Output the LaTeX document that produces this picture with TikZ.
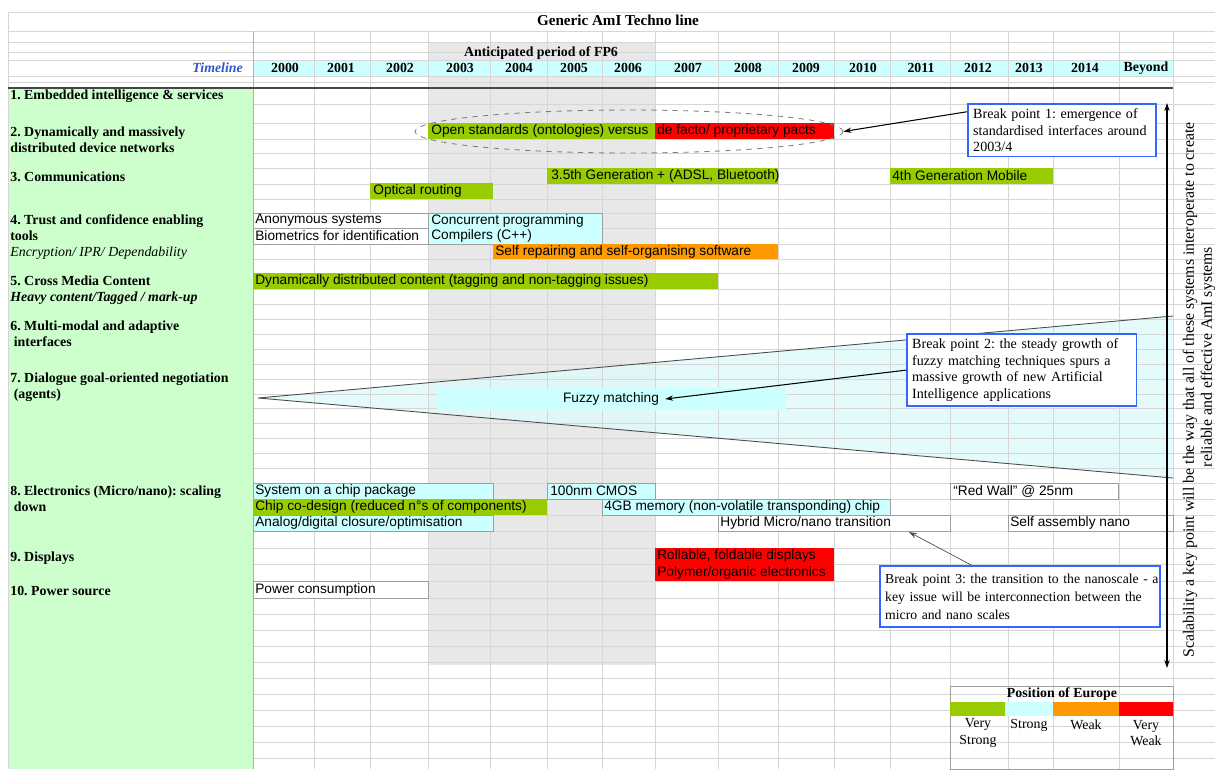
\documentclass[tikz,border=0pt]{standalone}
\usepackage{fontspec}
\setmainfont{Liberation Serif}
\setsansfont{Liberation Sans}
\usetikzlibrary{shapes.geometric,arrows.meta}
\frenchspacing

\definecolor{verystrong}{HTML}{99CC00}
\definecolor{strong}{HTML}{CCFFFF}
\definecolor{weak}{HTML}{FF9900}
\definecolor{veryweak}{HTML}{FF0000}
\definecolor{labelgreen}{HTML}{CCFFCC}
\definecolor{breakblue}{HTML}{3366FF}
\definecolor{timeblue}{HTML}{3355CC}
\definecolor{gridgray}{HTML}{D6D6D6}
\definecolor{fpgray}{HTML}{E8E8E8}
\definecolor{wedgecyan}{HTML}{E0FAFA}

\begin{document}
\begin{tikzpicture}[x=0.02cm,y=-0.02cm,
    gridline/.style={draw=gridgray,line width=0.4pt},
    cell/.style={draw=gray!75,line width=0.5pt},
    breakbox/.style={draw=breakblue,line width=1.1pt,fill=white,anchor=north west,align=left,
      inner xsep=3pt,inner ysep=2.5pt,font=\fontsize{8}{9.6}\selectfont},
    pointer/.style={-{Stealth[length=4.5pt,width=3pt]},line width=0.6pt}]

  \useasboundingbox (0,0) rectangle (1215,769);

  % sheet background
  \fill[labelgreen] (8,88) rectangle (253,769);
  \fill[fpgray] (428,42) rectangle (655,665);
  \fill[strong] (253,60) rectangle (1173,76);
  \fill[wedgecyan,fill opacity=0.85] (258,398) -- (1173,316) -- (1173,478) -- cycle;

  \foreach \y in {12,31,42,52,60,76,82}
    \draw[gridline] (8,\y) -- (1215,\y);
  \foreach \y in {104,123,139,153,168,184,199,213,228,244,259,273,289,304,319,334,349,364,379,394,
                  408,423,438,453,468,483,499,515,531,548,564,581,598,614,630,646,662,678,694,710,726,742,758}
    \draw[gridline] (253,\y) -- (1215,\y);
  \foreach \x in {314,370,428,490,547,602,655,718,778,834,890,950,1008,1053,1119,1173}
    \draw[gridline] (\x,31) -- (\x,769);
  \draw[gray!60] (253,31) -- (253,769);
  \draw[gridline] (8,12) -- (8,769);
  \draw[gray!55!black,line width=1pt] (8,88) -- (1173,88);

  \draw[gray!60!black,line width=0.5pt] (1173,316) -- (258,398) -- (1173,478);
  \fill[strong] (437,388) rectangle (786,410);
  \node[font=\sffamily\fontsize{7.8}{9}\selectfont] (fuzzy) at (611,399) {Fuzzy matching};

  % header
  \node[font=\fontsize{8.6}{10}\selectfont\bfseries] (title) at (618,20) {Generic AmI Techno line};
  \node[font=\fontsize{7.9}{9}\selectfont\bfseries] (fp6) at (541,53) {Anticipated period of FP6};
  \node[anchor=east,text=timeblue,font=\fontsize{7.9}{9}\selectfont\bfseries\itshape] (timeline) at (249,68) {Timeline};

  \begin{scope}[every node/.style={font=\fontsize{7.9}{9}\selectfont\bfseries}]
    \node (y2000) at (285,68)  {2000};
    \node (y2001) at (341,68)  {2001};
    \node (y2002) at (400,68)  {2002};
    \node (y2003) at (460,68)  {2003};
    \node (y2004) at (519,68)  {2004};
    \node (y2005) at (574,68)  {2005};
    \node (y2006) at (628,68)  {2006};
    \node (y2007) at (688,68)  {2007};
    \node (y2008) at (748,68)  {2008};
    \node (y2009) at (806,68)  {2009};
    \node (y2010) at (863,68)  {2010};
    \node (y2011) at (921,68)  {2011};
    \node (y2012) at (978,68)  {2012};
    \node (y2013) at (1029,68) {2013};
    \node (y2014) at (1085,68) {2014};
    \node (ybeyond) at (1146,68) {Beyond};
  \end{scope}

  \begin{scope}[every node/.style={anchor=west,inner sep=0pt,align=left,font=\fontsize{7.9}{9}\selectfont\bfseries}]
    \node (row1)  at (10,96)  {1. Embedded intelligence \& services};
    \node (row2)  at (10,140) {2. Dynamically and massively\\distributed device networks};
    \node (row3)  at (10,177) {3. Communications};
    \node (row4)  at (10,237) {4. Trust and confidence enabling\\tools\\\mdseries\itshape Encryption/ IPR/ Dependability};
    \node (row5)  at (10,290) {5. Cross Media Content\\\itshape Heavy content/Tagged / mark-up};
    \node (row6)  at (10,334) {6. Multi-modal and adaptive\\\hspace*{2pt}interfaces};
    \node (row7)  at (10,387) {7. Dialogue goal-oriented negotiation\\\hspace*{2pt}(agents)};
    \node (row8)  at (10,499) {8. Electronics (Micro/nano): scaling\\\hspace*{2pt}down};
    \node (row9)  at (10,558) {9. Displays};
    \node (row10) at (10,591) {10. Power source};
  \end{scope}

  % bars
  \fill[verystrong] (428,123) rectangle (655,139);
  \fill[veryweak] (655,123) rectangle (834,139);
  \fill[verystrong] (547,168) rectangle (778,184);
  \fill[verystrong] (890,168) rectangle (1053,184);
  \fill[verystrong] (370,183) rectangle (493,199);
  \filldraw[cell,fill=white] (253,213) rectangle (428,228);
  \filldraw[cell,fill=white] (253,228) rectangle (428,244);
  \filldraw[cell,fill=strong] (428,213) rectangle (602,244);
  \fill[weak] (493,244) rectangle (778,259);
  \fill[verystrong] (253,273) rectangle (718,289);
  \filldraw[cell,fill=strong] (253,483) rectangle (493,499);
  \filldraw[cell,fill=strong] (547,483) rectangle (655,499);
  \filldraw[cell,fill=white] (950,483) rectangle (1118,499);
  \fill[verystrong] (253,499) rectangle (547,515);
  \filldraw[cell,fill=strong] (602,499) rectangle (890,515);
  \filldraw[cell,fill=strong] (253,515) rectangle (493,531);
  \filldraw[cell,fill=white] (718,515) rectangle (950,531);
  \filldraw[cell,fill=white] (1008,515) rectangle (1173,531);
  \fill[veryweak] (655,548) rectangle (834,581);
  \filldraw[cell,fill=white] (253,581) rectangle (428,598);

  \begin{scope}[every node/.style={anchor=west,inner sep=0pt,align=left,font=\sffamily\fontsize{7.8}{8.9}\selectfont}]
    \node (openstd)  at (431,131)  {Open standards (ontologies) versus};
    \node (defacto)  at (657,131)  {de facto/ proprietary pacts};
    \node (gen35)    at (551,176)  {3.5th Generation + (ADSL, Bluetooth)};
    \node (gen4)     at (892,176)  {4th Generation Mobile};
    \node (optical)  at (373,191)  {Optical routing};
    \node (anon)     at (255,220.5){Anonymous systems};
    \node (biom)     at (255,236)  {Biometrics for identification};
    \node (concur)   at (431,228.5){Concurrent programming\\Compilers (C++)};
    \node (selfrep)  at (495,251.5){Self repairing and self-organising software};
    \node (dyncont)  at (255,281)  {Dynamically distributed content (tagging and non-tagging issues)};
    \node (soc)      at (255,491)  {System on a chip package};
    \node (cmos)     at (550,491)  {100nm CMOS};
    \node (redwall)  at (953,491)  {“Red Wall” @ 25nm};
    \node (codesign) at (255,507)  {Chip co-design (reduced n°s of components)};
    \node (mem4gb)   at (604,507)  {4GB memory (non-volatile transponding) chip};
    \node (analog)   at (255,523)  {Analog/digital closure/optimisation};
    \node (hybrid)   at (720,523)  {Hybrid Micro/nano transition};
    \node (selfasm)  at (1010,523) {Self assembly nano};
    \node[font=\sffamily\fontsize{7.8}{9.6}\selectfont] (rollable) at (657,564.5) {Rollable, foldable displays\\Polymer/organic electronics};
    \node (power)    at (255,589.5){Power consumption};
  \end{scope}

  \node[ellipse,draw=gray,dashed,line width=0.5pt,inner sep=0pt,minimum width=8.56cm,minimum height=0.86cm] (openell) at (629,131.5) {};

  % break points
  \node[breakbox,text width=3.55cm] (bp1) at (967,103) {Break point 1: emergence of\\standardised interfaces around\\2003/4};
  \node[breakbox,text width=4.38cm] (bp2) at (906,333) {Break point 2: the steady growth of\\fuzzy matching techniques spurs a\\massive growth of new Artificial\\Intelligence applications};
  \node[breakbox,text width=5.4cm,inner ysep=4.5pt,font=\fontsize{7.8}{10.2}\selectfont] (bp3) at (879,565) {\mbox{Break point 3: the transition to the nanoscale - a}\\key issue will be interconnection between the\\micro and nano scales};
  \coordinate (bp3tip) at (909,532);

  \draw[pointer] ([yshift=0.37cm]bp1.west) -- (openell.east);
  \draw[pointer] (bp2.west) -- (fuzzy.east);
  \draw[pointer,gray!60!black,line width=0.4pt] ([xshift=-0.98cm]bp3.north) -- (bp3tip);

  % scalability
  \coordinate (scaletop) at (1167,103);
  \coordinate (scalebot) at (1167,668);
  \draw[{Stealth[length=4.5pt,width=3pt]}-{Stealth[length=4.5pt,width=3pt]},line width=0.7pt] (scaletop) -- (scalebot);
  \begin{scope}[every node/.style={rotate=90,inner sep=0pt,font=\fontsize{9}{10.6}\selectfont}]
    \node (scaletext) at (1190,390) {Scalability a key point will be the way that all of these systems interoperate to create};
    \node (scalemore) at (1208,357) {reliable and effective AmI systems};
  \end{scope}

  % legend
  \draw[cell] (950,686) rectangle (1173,769);
  \fill[verystrong] (950,702) rectangle (1005,716);
  \fill[strong] (1005,702) rectangle (1053,716);
  \fill[weak] (1053,702) rectangle (1119,716);
  \fill[veryweak] (1119,702) rectangle (1173,716);
  \begin{scope}[every node/.style={align=center,inner sep=0pt,font=\fontsize{7.9}{9.4}\selectfont}]
    \node[font=\fontsize{7.9}{9}\selectfont\bfseries] (europe) at (1062,694) {Position of Europe};
    \node (vstrong) at (978,733)  {Very\\Strong};
    \node (lstrong) at (1029,725) {Strong};
    \node (lweak)   at (1086,725) {Weak};
    \node (vweak)   at (1146,733) {Very\\Weak};
  \end{scope}

\end{tikzpicture}
\end{document}
